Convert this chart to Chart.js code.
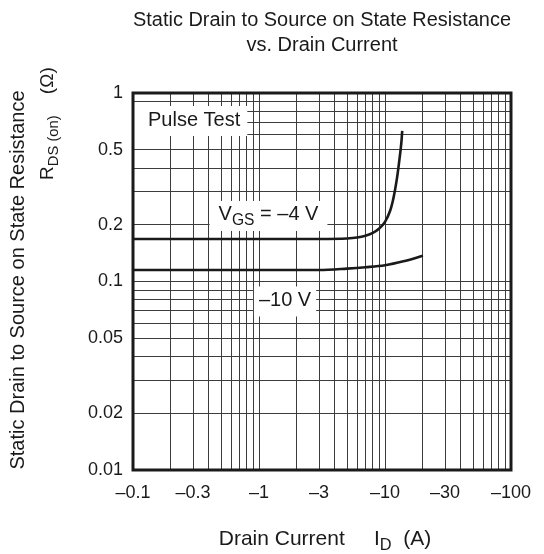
<!DOCTYPE html>
<html>
<head>
<meta charset="utf-8">
<script src="https://cdn.jsdelivr.net/npm/chart.js@4/dist/chart.umd.min.js"></script>
<style>
	body { margin: 0; background: #fff; }
	canvas { display: block; }
</style>
</head>
<body>
<canvas id="chart-rds" width="544" height="554"></canvas>
<script>
// R_DS(on) vs I_D, read in magnitudes (the labels carry the minus sign)
var vgs4Current = [0.1, 1, 3, 5, 6, 7, 8, 9, 10, 11, 11.5, 12, 12.5, 13, 13.5, 13.7];
var vgs4Resist = [0.168, 0.168, 0.168, 0.169, 0.171, 0.175, 0.181, 0.191, 0.207, 0.238, 0.265, 0.305, 0.36, 0.44, 0.55, 0.63];

var vgs10Current = [0.1, 1, 3, 5, 7, 10, 14, 20];
var vgs10Resist = [0.115, 0.115, 0.115, 0.117, 0.119, 0.122, 0.128, 0.137];

var xTickValues = [0.1, 0.3, 1, 3, 10, 30, 100];
var xTickText = ["\u20130.1", "\u20130.3", "\u20131", "\u20133", "\u201310", "\u201330", "\u2013100"];
var yTickValues = [0.01, 0.02, 0.05, 0.1, 0.2, 0.5, 1];
var yTickText = ["0.01", "0.02", "0.05", "0.1", "0.2", "0.5", "1"];

var FONT = "'Liberation Sans', Arial, Helvetica, sans-serif";
var INK = "#1a1a1a";

// every 1..9 line of each decade
function decadeGrid(lo, hi) {
	var out = [];
	for (var d = lo; d < hi; d *= 10) {
		for (var m = 1; m < 10; ++m) {
			out.push(Number((m * d).toPrecision(3)));
		}
	}
	out.push(hi);
	return out;
}

function lookupLabel(value, values, texts) {
	for (var i = 0; i < values.length; ++i) {
		if (Math.abs(value / values[i] - 1) < 1e-6) {
			return texts[i];
		}
	}
	return "";
}

function toPoints(xs, ys) {
	var pts = [];
	for (var i = 0; i < xs.length; ++i) {
		pts.push({ x: xs[i], y: ys[i] });
	}
	return pts;
}

// text labels with a white box behind them, placed at data coordinates
var LABELS = [
	{ x: 0.1316, y: 0.719, align: "left", parts: [["Pulse Test", 0]], padX: 7, padY: 5, boxLeftEdge: true },
	{ x: 1.19, y: 0.2254, align: "center", parts: [["V", 0], ["GS", 1], [" = \u20134 V", 0]], padX: 9, padY: 5 },
	{ x: 1.61, y: 0.0793, align: "center", parts: [["\u201310 V", 0]], padX: 5, padY: 5 }
];

function drawParts(ctx, parts, x, y, size) {
	for (var i = 0; i < parts.length; ++i) {
		var sub = parts[i][1];
		ctx.font = (sub ? size * 0.78 : size) + "px " + FONT;
		ctx.fillText(parts[i][0], x, y + (sub ? size * 0.3 : 0));
		x += ctx.measureText(parts[i][0]).width;
	}
}

function partsWidth(ctx, parts, size) {
	var w = 0;
	for (var i = 0; i < parts.length; ++i) {
		ctx.font = (parts[i][1] ? size * 0.78 : size) + "px " + FONT;
		w += ctx.measureText(parts[i][0]).width;
	}
	return w;
}

var annotatePlugin = {
	id: "annotate",
	beforeDatasetsDraw: function(chart) {
		var ctx = chart.ctx;
		var xs = chart.scales.x;
		var ys = chart.scales.y;
		var size = 20;
		ctx.save();
		ctx.textBaseline = "middle";
		ctx.textAlign = "left";
		for (var i = 0; i < LABELS.length; ++i) {
			var lb = LABELS[i];
			var px = xs.getPixelForValue(lb.x);
			var py = ys.getPixelForValue(lb.y);
			var w = partsWidth(ctx, lb.parts, size);
			var left = lb.align == "center" ? px - w / 2 : px;
			var boxLeft = lb.boxLeftEdge ? chart.chartArea.left : left - lb.padX;
			ctx.fillStyle = "#fff";
			ctx.fillRect(boxLeft, py - size / 2 - lb.padY + 1, left + w + lb.padX - boxLeft, size + lb.padY * 2);
			ctx.fillStyle = INK;
			drawParts(ctx, lb.parts, left, py, size);
		}
		ctx.restore();
	},
	afterDraw: function(chart) {
		var ctx = chart.ctx;
		var a = chart.chartArea;
		ctx.save();
		// frame
		ctx.strokeStyle = INK;
		ctx.lineWidth = 3;
		ctx.strokeRect(a.left, a.top, a.right - a.left, a.bottom - a.top);

		ctx.fillStyle = INK;
		ctx.textBaseline = "middle";

		// x axis title
		ctx.textAlign = "left";
		var xParts = [["Drain Current     I", 0], ["D", 1], ["  (A)", 0]];
		var xw = partsWidth(ctx, xParts, 21);
		drawParts(ctx, xParts, (a.left + a.right) / 2 + 3 - xw / 2, 539, 21);

		// y axis title, two rotated lines
		ctx.translate(18, 280);
		ctx.rotate(-Math.PI / 2);
		ctx.font = "20px " + FONT;
		ctx.textAlign = "center";
		ctx.fillText("Static Drain to Source on State Resistance", 0, 0);
		ctx.textAlign = "left";
		drawParts(ctx, [["R", 0], ["DS (on)", 1], ["    (\u03a9)", 0]], 100, 30, 19);
		ctx.restore();
	}
};

var chart = new Chart(document.getElementById("chart-rds").getContext("2d"), {
	type: "scatter",
	data: {
		datasets: [
			{
				label: "VGS = -4 V",
				data: toPoints(vgs4Current, vgs4Resist),
				showLine: true,
				borderColor: INK,
				borderWidth: 2.6,
				pointRadius: 0,
				cubicInterpolationMode: "monotone"
			},
			{
				label: "VGS = -10 V",
				data: toPoints(vgs10Current, vgs10Resist),
				showLine: true,
				borderColor: INK,
				borderWidth: 2.6,
				pointRadius: 0,
				cubicInterpolationMode: "monotone"
			}
		]
	},
	options: {
		responsive: false,
		animation: false,
		layout: { padding: { left: 0, right: 33, top: 0, bottom: 0 } },
		plugins: {
			legend: { display: false },
			tooltip: { enabled: false },
			title: {
				display: true,
				fullSize: false,
				text: ["Static Drain to Source on State Resistance", "vs. Drain Current"],
				color: INK,
				font: { family: FONT, size: 20, weight: "normal", lineHeight: 1.25 },
				padding: { top: 7.5, bottom: 35.5 }
			}
		},
		scales: {
			x: {
				type: "logarithmic",
				min: 0.1,
				max: 100,
				afterBuildTicks: function(scale) {
					scale.ticks = decadeGrid(0.1, 100).map(function(v) { return { value: v }; });
				},
				afterFit: function(scale) { scale.height = 84; },
				grid: { color: "#3c3c3c", lineWidth: 1, drawTicks: false },
				border: { display: false },
				ticks: {
					autoSkip: false,
					maxRotation: 0,
					padding: 12,
					color: INK,
					font: { family: FONT, size: 18 },
					callback: function(value) { return lookupLabel(value, xTickValues, xTickText); }
				}
			},
			y: {
				type: "logarithmic",
				min: 0.01,
				max: 1,
				afterBuildTicks: function(scale) {
					scale.ticks = decadeGrid(0.01, 1).map(function(v) { return { value: v }; });
				},
				afterFit: function(scale) { scale.width = 133; },
				grid: { color: "#3c3c3c", lineWidth: 1, drawTicks: false },
				border: { display: false },
				ticks: {
					autoSkip: false,
					padding: 10,
					color: INK,
					font: { family: FONT, size: 18 },
					callback: function(value) { return lookupLabel(value, yTickValues, yTickText); }
				}
			}
		}
	},
	plugins: [annotatePlugin]
});
</script>
</body>
</html>
